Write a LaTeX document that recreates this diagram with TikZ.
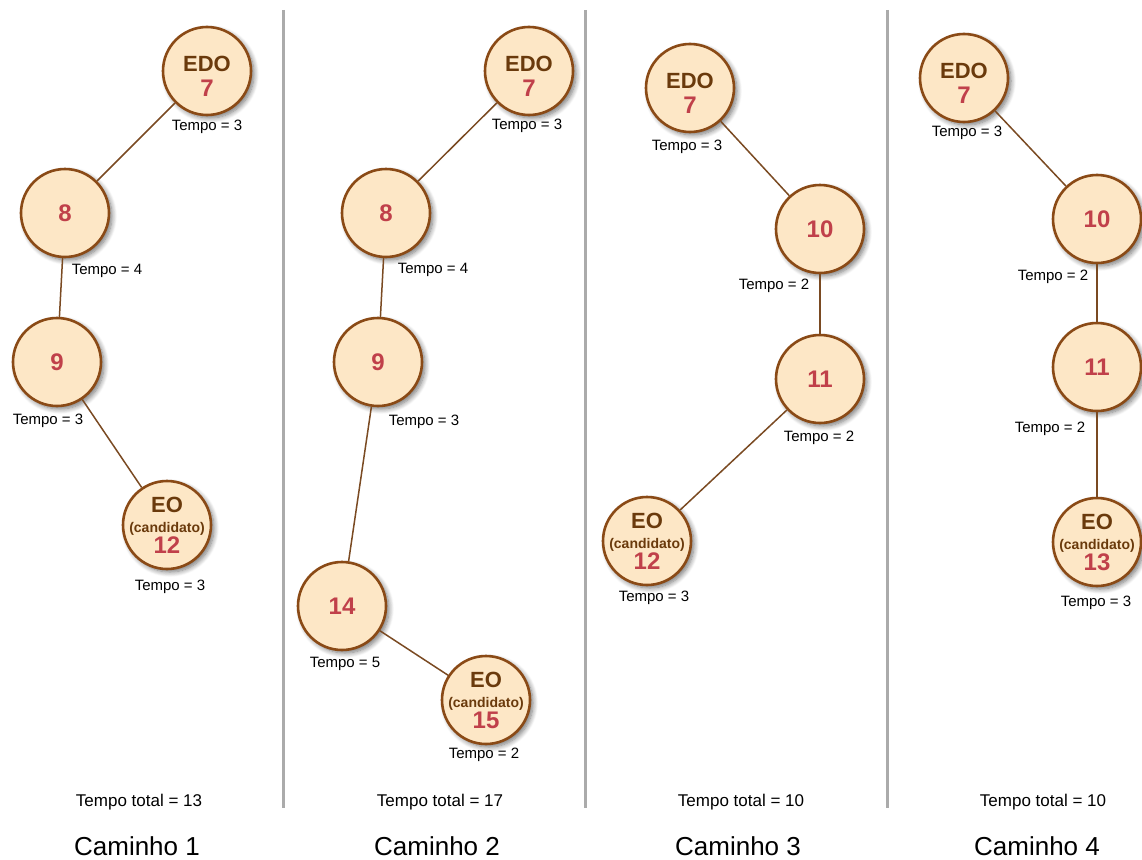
\documentclass[tikz,border=0pt]{standalone}
\usepackage{fontspec}
\setmainfont{Liberation Sans}
\usetikzlibrary{shadows.blur}
\definecolor{peach}{HTML}{FDE7C6}
\definecolor{rim}{HTML}{8A4A16}
\definecolor{wire}{HTML}{7A4A22}
\definecolor{lbl}{HTML}{6A3A0C}
\definecolor{num}{HTML}{C0404A}
\definecolor{sep}{HTML}{ABABAB}
\tikzset{
  state/.style={circle, minimum size=88pt, inner sep=0pt, fill=peach, draw=rim,
    line width=2.6pt,
    blur shadow={shadow xshift=3pt, shadow yshift=-3pt, shadow blur radius=5pt,
      shadow blur steps=8, shadow opacity=55},
    align=center, font=\fontsize{22}{25}\selectfont\bfseries},
  inscription/.style={inner sep=0pt, align=center, font=\fontsize{22}{25}\selectfont\bfseries},
  link/.style={draw=wire, line width=1.5pt},
  tempo/.style={font=\fontsize{15}{17}\selectfont, inner sep=0pt},
  total/.style={font=\fontsize{17}{19}\selectfont, inner sep=0pt},
  caminho/.style={font=\fontsize{26}{30}\selectfont, inner sep=0pt},
  divider/.style={draw=sep, line width=3pt}
}
\newcommand{\bignum}[1]{{\fontsize{24}{25}\selectfont\color{num}#1}}
\newcommand{\edotext}[1]{\color{lbl}EDO\\[0pt]\bignum{#1}}
\newcommand{\eotext}[1]{\color{lbl}EO\\[-5pt]{\fontsize{14}{15}\selectfont\color{lbl}(candidato)}\\[-4pt]\bignum{#1}}
\begin{document}
\begin{tikzpicture}[x=1pt, y=-1pt]
\useasboundingbox (0,0) rectangle (1142,859);

% column dividers
\coordinate (d1t) at (283,10);  \coordinate (d1b) at (283,808);
\coordinate (d2t) at (585,10);  \coordinate (d2b) at (585,808);
\coordinate (d3t) at (887,10);  \coordinate (d3b) at (887,808);
\draw[divider] (d1t) -- (d1b);
\draw[divider] (d2t) -- (d2b);
\draw[divider] (d3t) -- (d3b);

% ---------- Caminho 1 ----------
\node[state] (a7)  at (207,71)  {};
\node[inscription] (a7t) at ([yshift=-5pt]a7.center) {\edotext{7}};
\node[state] (a8)  at (65,213)  {\bignum{8}};
\node[state] (a9)  at (57,362)  {\bignum{9}};
\node[state] (a12) at (167,525) {};
\node[inscription] (a12t) at (a12.center) {\eotext{12}};
\draw[link] (a7) -- (a8);
\draw[link] (a8) -- (a9);
\draw[link] (a9) -- (a12);
\node[tempo] (ta7)  at (207,127) {Tempo = 3};
\node[tempo] (ta8)  at (107,271) {Tempo = 4};
\node[tempo] (ta9)  at (48,421)  {Tempo = 3};
\node[tempo] (ta12) at (170,587) {Tempo = 3};
\node[total] (tot1) at (139,802) {Tempo total = 13};
\node[caminho] (c1) at (137,846) {Caminho 1};

% ---------- Caminho 2 ----------
\node[state] (b7)  at (529,71)  {};
\node[inscription] (b7t) at ([yshift=-5pt]b7.center) {\edotext{7}};
\node[state] (b8)  at (386,213) {\bignum{8}};
\node[state] (b9)  at (378,362) {\bignum{9}};
\node[state] (b14) at (342,606) {\bignum{14}};
\node[state] (b15) at (486,700) {};
\node[inscription] (b15t) at (b15.center) {\eotext{15}};
\draw[link] (b7) -- (b8);
\draw[link] (b8) -- (b9);
\draw[link] (b9) -- (b14);
\draw[link] (b14) -- (b15);
\node[tempo] (tb7)  at (527,126) {Tempo = 3};
\node[tempo] (tb8)  at (433,270) {Tempo = 4};
\node[tempo] (tb9)  at (424,422) {Tempo = 3};
\node[tempo] (tb14) at (345,664) {Tempo = 5};
\node[tempo] (tb15) at (484,755) {Tempo = 2};
\node[total] (tot2) at (440,802) {Tempo total = 17};
\node[caminho] (c2) at (437,846) {Caminho 2};

% ---------- Caminho 3 ----------
\node[state] (c7)  at (690,88)  {};
\node[inscription] (c7t) at ([yshift=-5pt]c7.center) {\edotext{7}};
\node[state] (c10) at (820,229) {\bignum{10}};
\node[state] (c11) at (820,379) {\bignum{11}};
\node[state] (c12) at (647,541) {};
\node[inscription] (c12t) at (c12.center) {\eotext{12}};
\draw[link] (c7) -- (c10);
\draw[link] (c10) -- (c11);
\draw[link] (c11) -- (c12);
\node[tempo] (tc7)  at (687,147) {Tempo = 3};
\node[tempo] (tc10) at (774,286) {Tempo = 2};
\node[tempo] (tc11) at (819,438) {Tempo = 2};
\node[tempo] (tc12) at (654,598) {Tempo = 3};
\node[total] (tot3) at (741,802) {Tempo total = 10};
\node[caminho] (c3) at (738,846) {Caminho 3};

% ---------- Caminho 4 ----------
\node[state] (d7)  at (964,78)   {};
\node[inscription] (d7t) at ([yshift=-5pt]d7.center) {\edotext{7}};
\node[state] (d10) at (1097,219) {\bignum{10}};
\node[state] (d11) at (1097,367) {\bignum{11}};
\node[state] (d13) at (1097,542) {};
\node[inscription] (d13t) at (d13.center) {\eotext{13}};
\draw[link] (d7) -- (d10);
\draw[link] (d10) -- (d11);
\draw[link] (d11) -- (d13);
\node[tempo] (td7)  at (967,133)  {Tempo = 3};
\node[tempo] (td10) at (1053,277) {Tempo = 2};
\node[tempo] (td11) at (1050,429) {Tempo = 2};
\node[tempo] (td13) at (1096,603) {Tempo = 3};
\node[total] (tot4) at (1043,802) {Tempo total = 10};
\node[caminho] (c4) at (1037,846) {Caminho 4};
\end{tikzpicture}
\end{document}
